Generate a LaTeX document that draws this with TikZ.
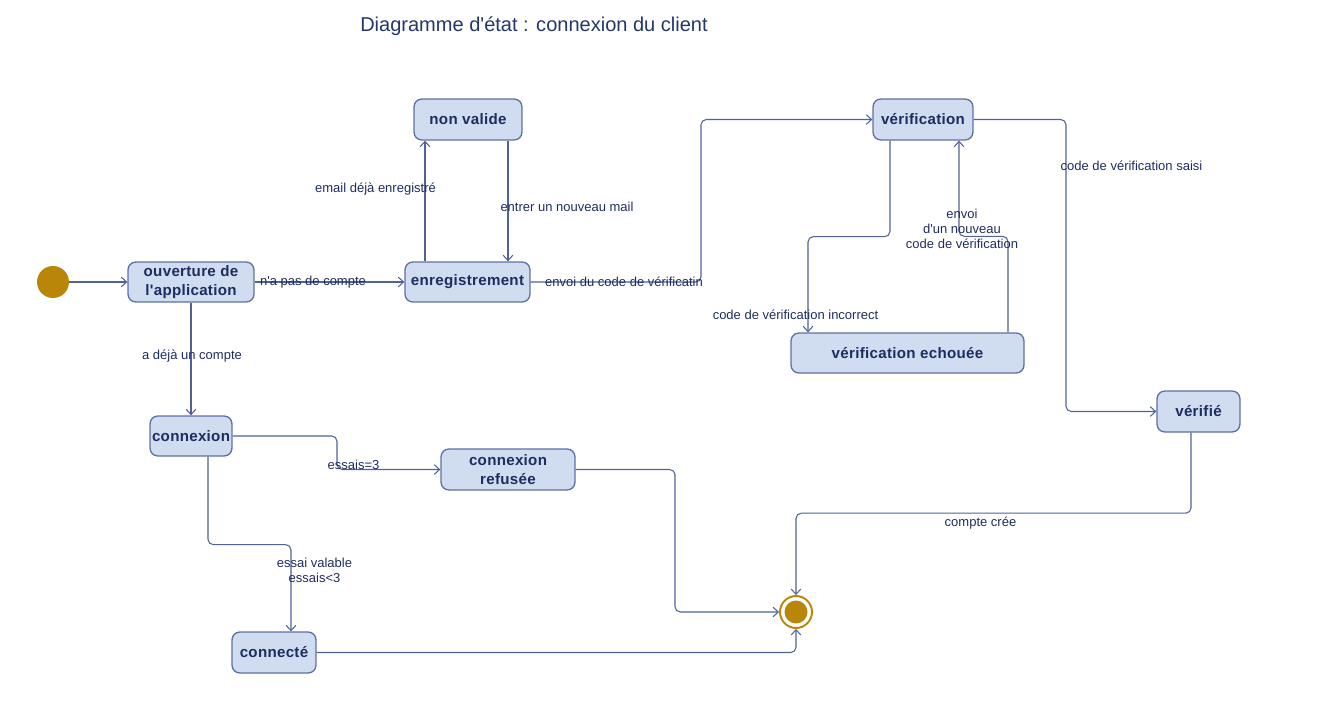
\documentclass[tikz,border=0pt]{standalone}
\usepackage{fontspec}
\setmainfont{Liberation Sans}[Ligatures=TeXOff]
\usetikzlibrary{arrows.meta,calc}
\definecolor{nodefill}{RGB}{208,220,240}
\definecolor{nodeline}{RGB}{95,112,165}
\definecolor{txt}{RGB}{30,45,95}
\definecolor{titlec}{RGB}{35,55,105}
\definecolor{wire}{RGB}{80,98,152}
\definecolor{gold}{RGB}{186,134,10}
\begin{document}
\begin{tikzpicture}[x=0.02cm,y=-0.02cm,
 st/.style={draw=nodeline, fill=nodefill, rounded corners=4.5pt, line width=0.75pt,
   font=\fontsize{8.6}{10.5}\selectfont\bfseries\addfontfeature{LetterSpace=2}, text=txt, align=center, inner sep=0pt},
 tr/.style={draw=wire, line width=0.6pt, rounded corners=3pt, -{Straight Barb[length=3pt,width=5.5pt]}},
 lbl/.style={font=\fontsize{7.4}{8.6}\selectfont, text=txt, align=center, inner sep=0pt}]
\useasboundingbox (0,0) rectangle (1320,727);

\node[font=\fontsize{11.4}{13}\selectfont, text=titlec, inner sep=0pt] (title) at (534,26) {Diagramme d'état : connexion du client};

% states
\node[circle, fill=gold, minimum size=0.64cm, inner sep=0pt] (init) at (53,282) {};
\node[st, minimum width=2.52cm, minimum height=0.8cm] (ouv) at (191,282) {ouverture de\\l'application};
\node[st, minimum width=2.16cm, minimum height=0.82cm] (nonvalide) at (468,119.5) {non valide};
\node[st, minimum width=2.5cm, minimum height=0.8cm] (enr) at (467.5,282) {enregistrement};
\node[st, minimum width=2.0cm, minimum height=0.82cm] (verif) at (923,119.5) {vérification};
\node[st, minimum width=4.66cm, minimum height=0.8cm] (echec) at (907.5,353) {vérification echouée};
\node[st, minimum width=1.66cm, minimum height=0.82cm] (verifie) at (1198.5,411.5) {vérifié};
\node[st, minimum width=1.64cm, minimum height=0.8cm] (conx) at (191,436) {connexion};
\node[st, minimum width=2.68cm, minimum height=0.82cm] (refus) at (508,469.5) {connexion\\refusée};
\node[st, minimum width=1.68cm, minimum height=0.82cm] (connecte) at (274,652.5) {connecté};
\node[circle, draw=gold, line width=1.1pt, fill=white, minimum size=0.64cm, inner sep=0pt] (final) at (796,612) {};
\fill[gold] (final.center) circle (11.5);

% transitions
\draw[tr] (init) -- (ouv);
\draw[tr] (ouv) -- (enr);
\node[lbl] (l1) at (313,282) {n'a pas de compte};

\draw[tr] ([xshift=-0.85cm]enr.north) -- ([xshift=-0.85cm]enr.north |- nonvalide.south);
\node[lbl] (l2) at (375.5,189) {email déjà enregistré};

\draw[tr] ([xshift=0.8cm]nonvalide.south) -- ([xshift=0.8cm]nonvalide.south |- enr.north);
\node[lbl] (l3) at (567,207) {entrer un nouveau mail};

\draw[tr] (enr.east) -- (701,282) |- (verif.west);
\node[lbl] (l4) at (624,282) {envoi du code de vérificatin};

\draw[tr] ([xshift=-0.66cm]verif.south) -- ++(0,96) -| ([xshift=-1.99cm]echec.north);
\node[lbl] (l5) at (795.5,315) {code de vérification incorrect};

\draw[tr] ([xshift=2.01cm]echec.north) -- ++(0,-96) -| ([xshift=0.72cm]verif.south);
\node[lbl] (l6) at (962,229) {envoi\\d'un nouveau\\code de vérification};

\draw[tr] (verif.east) -- (1066,119.5) |- (verifie.west);
\node[lbl] (l7) at (1131.5,166) {code de vérification saisi};

\draw[tr] ([xshift=-0.15cm]verifie.south) -- ++(0,80.5) -| (final.north);
\node[lbl] (l8) at (980.5,523) {compte crée};

\draw[tr] (refus.east) -- (675,469.5) |- (final.west);
\draw[tr] (connecte.east) -| (final.south);

\draw[tr] (ouv) -- (conx);
\node[lbl] (l9) at (192,356) {a déjà un compte};

\draw[tr] (conx.east) -- (337,436) |- (refus.west);
\node[lbl] (l10) at (353.5,465) {essais=3};

\draw[tr] ([xshift=0.34cm]conx.south) -- ++(0,88) -| ([xshift=0.34cm]connecte.north);
\node[lbl] (l11) at (314.5,570) {essai valable\\essais<3};
\end{tikzpicture}
\end{document}
